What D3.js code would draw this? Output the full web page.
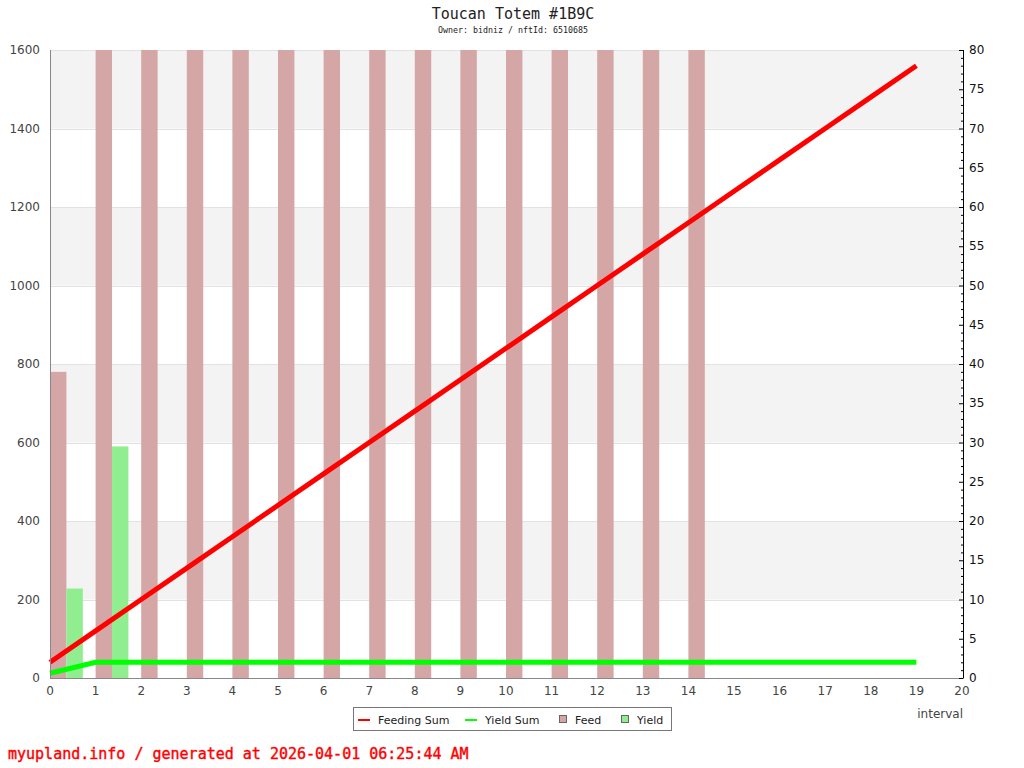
<!DOCTYPE html>
<html lang="en">

<head>
    <meta charset="UTF-8">
    <title>Toucan Totem #1B9C</title>
    <script src="https://cdn.jsdelivr.net/npm/d3@7"></script>
    <style>
        * {
            margin: 0;
        }

        body {
            background: #fff;
        }
    </style>
</head>

<body>
    <svg id="chart" width="1024" height="768"></svg>
    <script>
        // data
        var intervals = d3.range(0, 20);
        var feed = [780, 1600, 1600, 1600, 1600, 1600, 1600, 1600, 1600, 1600, 1600, 1600, 1600, 1600, 1600, 0, 0, 0, 0, 0];
        var yieldVals = [228, 590, 0, 0, 0, 0, 0, 0, 0, 0, 0, 0, 0, 0, 0, 0, 0, 0, 0, 0];
        var feedingSum = [2, 6, 10, 14, 18, 22, 26, 30, 34, 38, 42, 46, 50, 54, 58, 62, 66, 70, 74, 78];
        var yieldSum = [0.6, 2, 2, 2, 2, 2, 2, 2, 2, 2, 2, 2, 2, 2, 2, 2, 2, 2, 2, 2];
        var leftTicks = [0, 200, 400, 600, 800, 1000, 1200, 1400, 1600];
        var rightTicks = d3.range(0, 81, 5);

        var svg = d3.select("#chart");
        var pLeft = 50, pRight = 962, pTop = 50, pBottom = 678;

        var x = d3.scaleLinear().domain([0, 20]).range([pLeft, pRight]);
        var y = d3.scaleLinear().domain([0, 1600]).range([pBottom, pTop]);
        var y2 = d3.scaleLinear().domain([0, 80]).range([pBottom, pTop]);

        // background bands
        svg.selectAll("rect.band")
            .data(d3.range(0, 1600, 200))
            .enter()
            .append("rect")
            .attr("x", pLeft)
            .attr("width", pRight - pLeft)
            .attr("y", function (d) { return y(d + 200); })
            .attr("height", function (d) { return y(d) - y(d + 200); })
            .attr("fill", function (d, i) { return i % 2 == 1 ? "#f3f3f3" : "#fff"; });

        // grid lines
        svg.selectAll("line.grid")
            .data(leftTicks.slice(1))
            .enter()
            .append("line")
            .attr("x1", pLeft).attr("x2", pRight)
            .attr("y1", function (d) { return Math.round(y(d)) + 0.5; })
            .attr("y2", function (d) { return Math.round(y(d)) + 0.5; })
            .attr("stroke", "#e2e2e2");

        // bars
        var bw = (x(1) - x(0)) * 0.36;
        svg.selectAll("rect.feed")
            .data(feed)
            .enter()
            .append("rect")
            .attr("x", function (d, i) { return x(i); })
            .attr("width", bw)
            .attr("y", function (d) { return y(d); })
            .attr("height", function (d) { return pBottom - y(d); })
            .attr("fill", "#d4a6a6");

        svg.selectAll("rect.yield")
            .data(yieldVals)
            .enter()
            .append("rect")
            .attr("x", function (d, i) { return x(i) + bw; })
            .attr("width", bw)
            .attr("y", function (d) { return y(d); })
            .attr("height", function (d) { return pBottom - y(d); })
            .attr("fill", "#90ee90");

        // lines
        var line = d3.line()
            .x(function (d, i) { return x(intervals[i]); })
            .y(function (d) { return y2(d); });

        svg.append("path")
            .attr("d", line(yieldSum))
            .attr("fill", "none")
            .attr("stroke", "#00ff00")
            .attr("stroke-width", 5);

        svg.append("path")
            .attr("d", line(feedingSum))
            .attr("fill", "none")
            .attr("stroke", "#ff0000")
            .attr("stroke-width", 5);

        // axes
        var font = "DejaVu Sans, sans-serif";

        svg.append("line")
            .attr("x1", pLeft + 0.5).attr("x2", pLeft + 0.5)
            .attr("y1", pTop).attr("y2", pBottom)
            .attr("stroke", "#888");
        svg.append("line")
            .attr("x1", pLeft).attr("x2", pRight)
            .attr("y1", pBottom + 0.5).attr("y2", pBottom + 0.5)
            .attr("stroke", "#888");

        svg.selectAll("text.yl")
            .data(leftTicks)
            .enter()
            .append("text")
            .attr("x", pLeft - 10)
            .attr("y", function (d) { return y(d) + 4; })
            .attr("text-anchor", "end")
            .attr("font-family", font)
            .attr("font-size", 12)
            .attr("fill", "#444")
            .text(function (d) { return d; });

        svg.selectAll("text.xl")
            .data(d3.range(0, 21))
            .enter()
            .append("text")
            .attr("x", function (d) { return x(d); })
            .attr("y", pBottom + 17)
            .attr("text-anchor", "middle")
            .attr("font-family", font)
            .attr("font-size", 12)
            .attr("fill", "#444")
            .text(function (d) { return d; });

        svg.append("text")
            .attr("x", 963)
            .attr("y", 718)
            .attr("text-anchor", "end")
            .attr("font-family", font)
            .attr("font-size", 12)
            .attr("fill", "#444")
            .text("interval");

        // right axis
        var rAxis = d3.axisLeft(y2)
            .tickValues(d3.range(0, 81, 1))
            .tickSize(2)
            .tickFormat("");
        var rg = svg.append("g")
            .attr("transform", "translate(" + (pRight + 1) + ",0)")
            .call(rAxis);
        rg.select(".domain").attr("stroke", "#000").attr("d", "M0.5," + pTop + "V" + pBottom);
        rg.selectAll(".tick line")
            .attr("x1", 0.5)
            .attr("x2", function (d) { return d % 5 == 0 ? -4 : -2; })
            .attr("stroke", "#000");

        svg.selectAll("text.rl")
            .data(rightTicks)
            .enter()
            .append("text")
            .attr("x", pRight + 7)
            .attr("y", function (d) { return y2(d) + 4; })
            .attr("font-family", font)
            .attr("font-size", 12)
            .attr("fill", "#111")
            .text(function (d) { return d; });

        // title
        svg.append("text")
            .attr("x", 513).attr("y", 19)
            .attr("text-anchor", "middle")
            .attr("font-family", "DejaVu Sans Mono, monospace")
            .attr("font-size", 15)
            .attr("fill", "#222")
            .text("Toucan Totem #1B9C");
        svg.append("text")
            .attr("x", 513).attr("y", 33)
            .attr("text-anchor", "middle")
            .attr("font-family", "DejaVu Sans Mono, monospace")
            .attr("font-size", 8.3)
            .attr("fill", "#222")
            .text("Owner: bidniz / nftId: 6510685");

        // legend
        svg.append("rect")
            .attr("x", 353.5).attr("y", 707.5)
            .attr("width", 318).attr("height", 23)
            .attr("fill", "#fff")
            .attr("stroke", "#777");

        var legend = [
            { name: "Feeding Sum", type: "line", color: "#ff0000", x: 358 },
            { name: "Yield Sum", type: "line", color: "#00ff00", x: 465 },
            { name: "Feed", type: "box", color: "#d4a6a6", x: 558 },
            { name: "Yield", type: "box", color: "#90ee90", x: 620 }
        ];
        var lg = svg.selectAll("g.leg")
            .data(legend)
            .enter()
            .append("g")
            .attr("transform", function (d) { return "translate(" + d.x + ",719)"; });
        lg.filter(function (d) { return d.type == "line"; })
            .append("rect")
            .attr("x", 0).attr("y", 0)
            .attr("width", 12).attr("height", 2)
            .attr("fill", function (d) { return d.color; });
        lg.filter(function (d) { return d.type == "box"; })
            .append("rect")
            .attr("x", 1.5).attr("y", -3.5)
            .attr("width", 7).attr("height", 7)
            .attr("fill", function (d) { return d.color; })
            .attr("stroke", "#666");
        lg.append("text")
            .attr("x", function (d) { return d.type == "line" ? 20 : 17; })
            .attr("y", 5)
            .attr("font-family", font)
            .attr("font-size", 11)
            .attr("fill", "#222")
            .text(function (d) { return d.name; });

        // footer
        svg.append("text")
            .attr("x", 8).attr("y", 759)
            .attr("font-family", "DejaVu Sans Mono, monospace")
            .attr("font-size", 15)
            .attr("fill", "#ff0000")
            .attr("stroke", "#ff0000")
            .attr("stroke-width", 0.4)
            .text("myupland.info / generated at 2026-04-01 06:25:44 AM");
    </script>
</body>

</html>
